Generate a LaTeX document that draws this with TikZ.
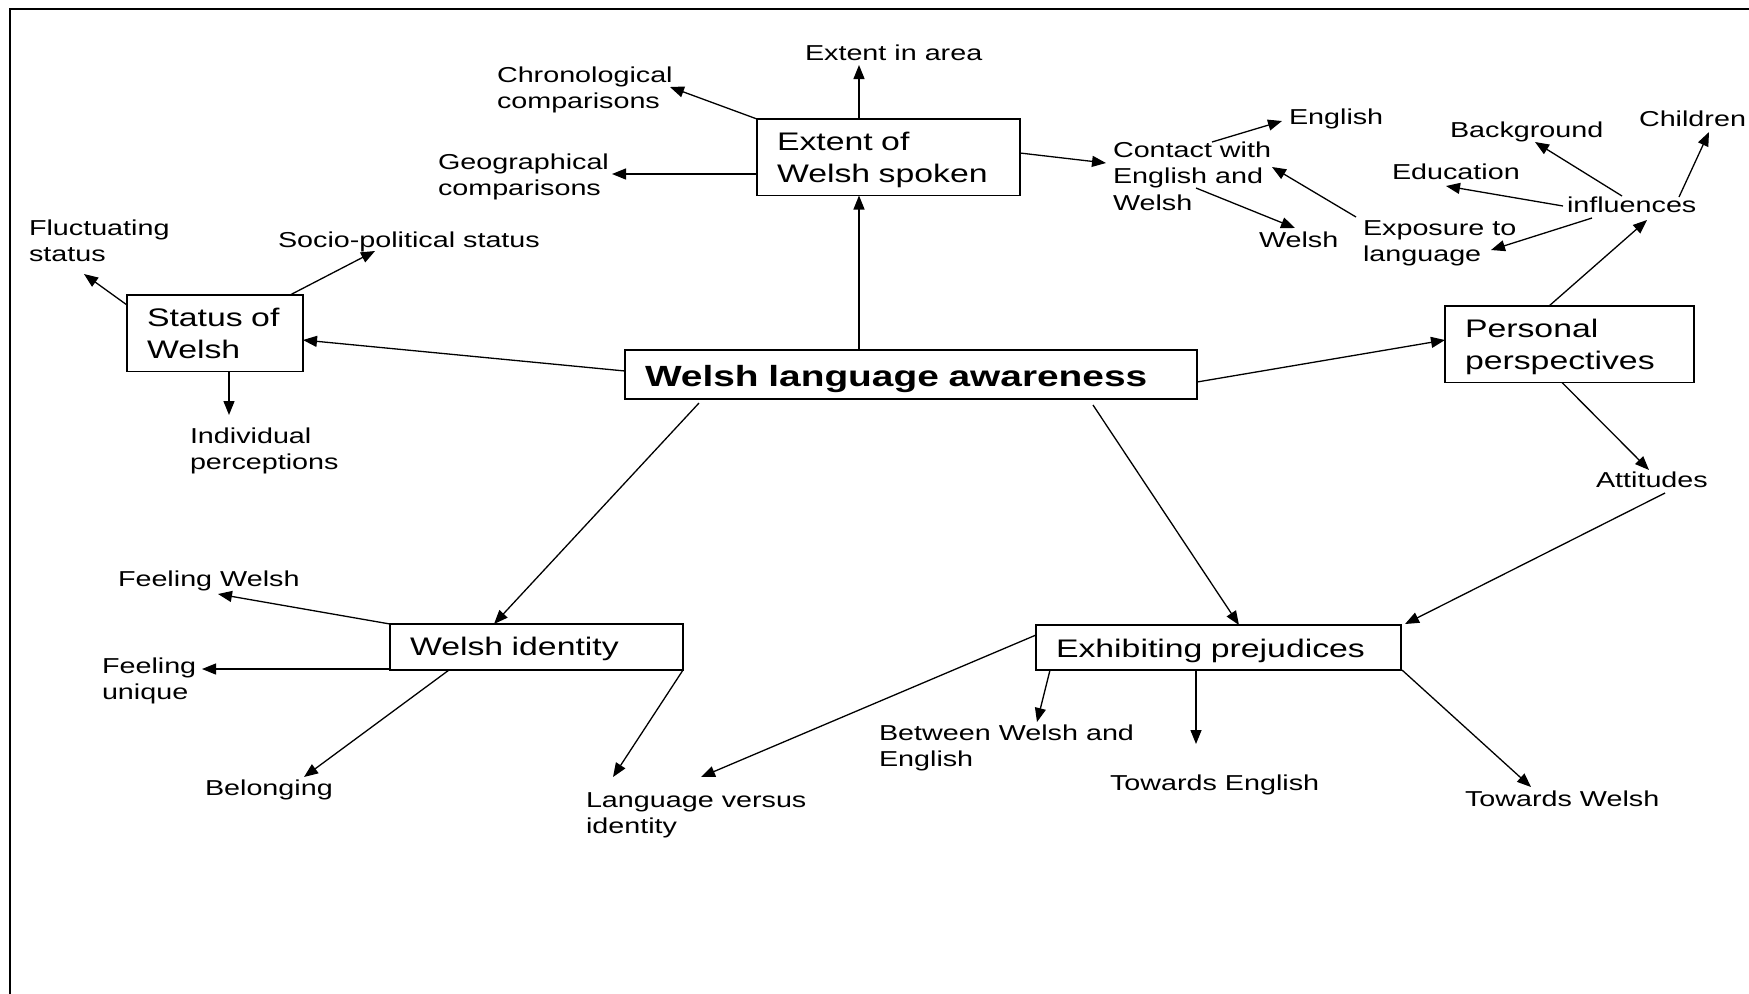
\documentclass[tikz,border=0pt]{standalone}
\usepackage{fontspec}
\setmainfont{Liberation Sans}[FakeStretch=1.33]
\usetikzlibrary{arrows.meta}

% fonts for plain labels, boxed topics and the central topic
\newcommand\labfont{\fontsize{10.8pt}{13.35pt}\selectfont}
\newcommand\boxfont{\fontsize{12.7pt}{15.75pt}\selectfont}
\newcommand\titlefont{\bfseries\fontsize{14.6pt}{18pt}\selectfont}
% fixed first-line height, so a label's first baseline sits 9pt below its top
\newcommand\lt{\rule{0pt}{9pt}}
% boxed text with fixed top and bottom clearance
\newcommand\bs[3]{\rule{0pt}{#1}#3\rule[-#2]{0pt}{#2}}

\tikzset{
  lab/.style={anchor=north west, inner sep=0pt, outer sep=0pt, align=left, font=\labfont},
  topic/.style={draw, line width=0.75pt, anchor=north west, inner xsep=10pt,
                inner ysep=0pt, outer sep=0pt, align=left, font=\boxfont},
  arr/.style={-{Triangle[length=7pt,width=5.5pt]}, line width=0.65pt},
}

\begin{document}
\begin{tikzpicture}[x=0.5pt,y=-0.5pt]
\useasboundingbox (0,0) rectangle (1749,993);

% page frame
\draw[line width=1pt] (10,1000) -- (10,9) -- (1760,9);

% boxed topics
\node[topic, text width=266pt, font=\titlefont] (main) at (625,350)
  {\bs{18pt}{6.5pt}{Welsh language awareness}};
\node[topic, text width=68pt] (sw) at (127,295)
  {\bs{15.75pt}{6.75pt}{Status of\\Welsh}};
\node[topic, text width=111.5pt] (ext) at (757,119)
  {\bs{15.75pt}{6.75pt}{Extent of\\Welsh spoken}};
\node[topic, text width=104.5pt] (pers) at (1445,306)
  {\bs{15.75pt}{6.75pt}{Personal\\perspectives}};
\node[topic, text width=126.5pt] (wid) at (390,624)
  {\bs{15.5pt}{7.5pt}{Welsh identity}};
\node[topic, text width=162.5pt] (exh) at (1036,625)
  {\bs{16pt}{6.5pt}{Exhibiting prejudices}};

% plain labels
\node[lab] (area)    at (805,42)   {\lt Extent in area};
\node[lab] (chron)   at (497,64)   {\lt Chronological\\comparisons};
\node[lab] (geo)     at (438,151)  {\lt Geographical\\comparisons};
\node[lab] (fluct)   at (29,217)   {\lt Fluctuating\\status};
\node[lab] (socio)   at (278,229)  {\lt Socio-political status};
\node[lab] (indiv)   at (190,425)  {\lt Individual\\perceptions};
\node[lab] (contact) at (1113,139) {\lt Contact with\\English and\\Welsh};
\node[lab] (english) at (1289,106) {\lt English};
\node[lab] (welsh)   at (1259,229) {\lt Welsh};
\node[lab] (expo)    at (1363,217) {\lt Exposure to\\language};
\node[lab] (backg)   at (1450,119) {\lt Background};
\node[lab] (child)   at (1639,108) {\lt Children};
\node[lab] (educ)    at (1392,161) {\lt Education};
\node[lab] (infl)    at (1567,194) {\lt influences};
\node[lab] (attit)   at (1596,469) {\lt Attitudes};
\node[lab] (fwelsh)  at (118,568)  {\lt Feeling Welsh};
\node[lab] (funiq)   at (102,655)  {\lt Feeling\\unique};
\node[lab] (belong)  at (205,777)  {\lt Belonging};
\node[lab] (langid)  at (586,789)  {\lt Language versus\\identity};
\node[lab] (between) at (879,722)  {\lt Between Welsh and\\English};
\node[lab] (towen)   at (1110,772) {\lt Towards English};
\node[lab] (towwe)   at (1465,788) {\lt Towards Welsh};

% central topic to its branches
\draw[arr] ([shift={(234,0)}]main.north west) -- ([shift={(102,0)}]ext.south west);
\draw[arr] ([shift={(0,21)}]main.north west) -- ([shift={(0,45)}]sw.north east);
\draw[arr] ([shift={(0,32)}]main.north east) -- ([shift={(0,34)}]pers.north west);
\draw[arr] ([shift={(74,4)}]main.south west) -- ([shift={(104,0)}]wid.north west);
\draw[arr] ([shift={(468,6)}]main.south west) -- ([shift={(203,0)}]exh.north west);

% extent of Welsh spoken
\draw[arr] ([shift={(102,0)}]ext.north west) -- ([shift={(54,23)}]area.north west);
\draw[arr] (ext.north west) -- ([shift={(173,23)}]chron.north west);
\draw[arr] ([shift={(0,55)}]ext.north west) -- ([shift={(174,23)}]geo.north west);
\draw[arr] ([shift={(0,34)}]ext.north east) -- ([shift={(-7,24)}]contact.north west);
\draw[arr] ([shift={(99,3)}]contact.north west) -- ([shift={(-7,15)}]english.north west);
\draw[arr] ([shift={(83,49)}]contact.north west) -- ([shift={(36,-1)}]welsh.north west);
\draw[arr] ([shift={(-7,0)}]expo.north west) -- ([shift={(159,28)}]contact.north west);

% personal perspectives
\draw[arr] ([shift={(104,0)}]pers.north west) -- ([shift={(80,26)}]infl.north west);
\draw[arr] ([shift={(55,2)}]infl.north west) -- ([shift={(85,23)}]backg.north west);
\draw[arr] ([shift={(-4,12)}]infl.north west) -- ([shift={(54,25)}]educ.north west);
\draw[arr] ([shift={(112,3)}]infl.north west) -- ([shift={(70,24)}]child.north west);
\draw[arr] ([shift={(25,24)}]infl.north west) -- ([shift={(128,33)}]expo.north west);
\draw[arr] ([shift={(117,0)}]pers.south west) -- ([shift={(53,1)}]attit.north west);
\draw[arr] ([shift={(69,24)}]attit.north west) -- ([shift={(4,-1)}]exh.north east);

% status of Welsh
\draw[arr] ([shift={(0,10)}]sw.north west) -- ([shift={(55,57)}]fluct.north west);
\draw[arr] ([shift={(163,0)}]sw.north west) -- ([shift={(97,22)}]socio.north west);
\draw[arr] ([shift={(102,0)}]sw.south west) -- ([shift={(39,-10)}]indiv.north west);

% Welsh identity
\draw[arr] (wid.north west) -- ([shift={(100,26)}]fwelsh.north west);
\draw[arr] ([shift={(0,-1)}]wid.south west) -- ([shift={(100,14)}]funiq.north west);
\draw[arr] ([shift={(59,0)}]wid.south west) -- ([shift={(99,0)}]belong.north west);
\draw[arr] (wid.south east) -- ([shift={(27,-12)}]langid.north west);

% exhibiting prejudices
\draw[arr] ([shift={(0,10)}]exh.north west) -- ([shift={(115,-12)}]langid.north west);
\draw[arr] ([shift={(14,0)}]exh.south west) -- ([shift={(158,0)}]between.north west);
\draw[arr] ([shift={(160,0)}]exh.south west) -- ([shift={(86,-28)}]towen.north west);
\draw[arr] ([shift={(1,0)}]exh.south east) -- ([shift={(66,-1)}]towwe.north west);
\end{tikzpicture}
\end{document}
